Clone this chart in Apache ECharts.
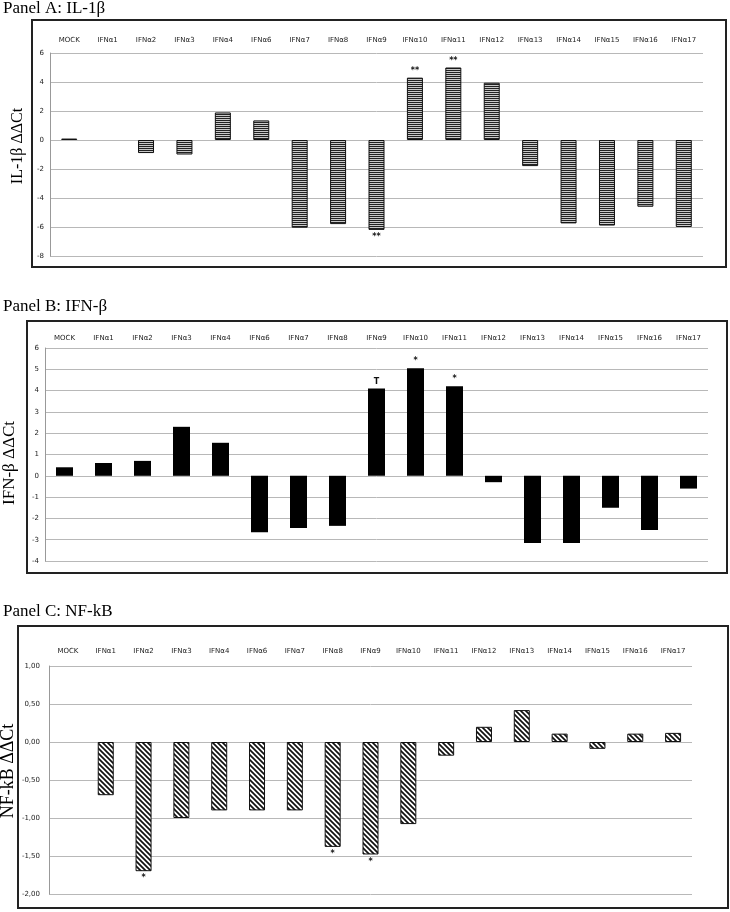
<!DOCTYPE html>
<html>
<head>
<meta charset="utf-8">
<script src="https://cdn.jsdelivr.net/npm/echarts@6/dist/echarts.min.js"></script>
<style>
html,body{margin:0;padding:0;background:#fff;}
#chart{width:730px;height:912px;}
</style>
</head>
<body>
<div id="chart"></div>
<script>
const categories = ['MOCK','IFNα1','IFNα2','IFNα3','IFNα4','IFNα6','IFNα7','IFNα8','IFNα9','IFNα10','IFNα11','IFNα12','IFNα13','IFNα14','IFNα15','IFNα16','IFNα17'];

const il1bValues = [0.1, 0, -0.9, -1.0, 1.9, 1.35, -6.05, -5.8, -6.2, 4.3, 5.0, 3.95, -1.8, -5.75, -5.9, -4.6, -6.0];
const il1bSig    = ['', '', '', '', '', '', '', '', '**', '**', '**', '', '', '', '', '', ''];

const ifnbValues = [0.4, 0.6, 0.7, 2.3, 1.55, -2.65, -2.45, -2.35, 4.1, 5.05, 4.2, -0.3, -3.15, -3.15, -1.5, -2.55, -0.6];
const ifnbSig    = ['', '', '', '', '', '', '', '', 'T', '*', '*', '', '', '', '', '', ''];

const nfkbValues = [0, -0.7, -1.7, -1.0, -0.9, -0.9, -0.9, -1.38, -1.48, -1.08, -0.18, 0.2, 0.42, 0.11, -0.09, 0.11, 0.12];
const nfkbSig    = ['', '', '*', '', '', '', '', '*', '*', '', '', '', '', '', '', '', ''];

const panelTitles = ['Panel A: IL-1β', 'Panel B: IFN-β', 'Panel C: NF-kB'];
const axisNames = ['IL-1β ΔΔCt', 'IFN-β ΔΔCt', 'NF-kB ΔΔCt'];

function makeHStripe() {
  const c = document.createElement('canvas');
  c.width = 4; c.height = 2;
  const g = c.getContext('2d');
  g.fillStyle = '#c8c8c8'; g.fillRect(0, 0, 4, 2);
  g.fillStyle = '#222'; g.fillRect(0, 0, 4, 1);
  return c;
}
function makeDiag() {
  const s = 5;
  const c = document.createElement('canvas');
  c.width = s; c.height = s;
  const g = c.getContext('2d');
  g.fillStyle = '#fff'; g.fillRect(0, 0, s, s);
  g.strokeStyle = '#111'; g.lineWidth = 1.7;
  g.beginPath();
  g.moveTo(-1, -1); g.lineTo(s + 1, s + 1);
  g.moveTo(-1, s - 1); g.lineTo(1, s + 1);
  g.moveTo(s - 1, -1); g.lineTo(s + 1, 1);
  g.stroke();
  return c;
}

const hstripe = { image: makeHStripe(), repeat: 'repeat' };
const diag = { image: makeDiag(), repeat: 'repeat' };

const grids = [
  { left: 50, top: 53, width: 653, height: 203 },
  { left: 45, top: 348, width: 663, height: 213 },
  { left: 49, top: 666, width: 643, height: 228 }
];
const yCfg = [
  { min: -8, max: 6, interval: 2, fmt: v => String(v) },
  { min: -4, max: 6, interval: 1, fmt: v => String(v) },
  { min: -2, max: 1, interval: 0.5, fmt: v => v.toFixed(2).replace('.', ',') }
];
const labelMargins = [9, 6, 11];
const barWidths = [16, 17, 16];
const seriesValues = [il1bValues, ifnbValues, nfkbValues];
const seriesSig = [il1bSig, ifnbSig, nfkbSig];
const seriesStyles = [
  { color: hstripe, borderColor: '#111', borderWidth: 1 },
  { color: '#000', borderColor: '#000', borderWidth: 0 },
  { color: diag, borderColor: '#111', borderWidth: 1 }
];

const xAxes = [], yAxes = [], series = [];
for (let i = 0; i < 3; i++) {
  xAxes.push({
    type: 'category', gridIndex: i, data: categories, position: 'top',
    axisLine: { show: false }, axisTick: { show: false },
    axisLabel: { interval: 0, margin: labelMargins[i], fontSize: 7, color: '#222', fontFamily: 'DejaVu Sans' }
  });
  yAxes.push({
    type: 'value', gridIndex: i, min: yCfg[i].min, max: yCfg[i].max, interval: yCfg[i].interval,
    axisLine: { show: true, lineStyle: { color: '#999', width: 1 } },
    axisTick: { show: false },
    axisLabel: { fontSize: 7, color: '#222', fontFamily: 'DejaVu Sans', margin: i === 2 ? 9 : 6, formatter: yCfg[i].fmt },
    splitLine: { show: true, lineStyle: { color: '#b8b8b8', width: 1 } }
  });
  const vals = seriesValues[i], sig = seriesSig[i];
  series.push({
    type: 'bar', xAxisIndex: i, yAxisIndex: i, barWidth: barWidths[i],
    itemStyle: seriesStyles[i],
    data: vals.map((v, k) => ({
      value: v,
      itemStyle: v === 0 ? { borderWidth: 0, opacity: 0 } : undefined,
      label: { show: sig[k] !== '', position: v < 0 ? 'bottom' : 'top', distance: 3,
               formatter: () => sig[k], fontSize: 8, color: '#111', fontFamily: 'DejaVu Sans', fontWeight: 'bold' }
    }))
  });
}

const boxes = [
  { x: 32, y: 20, w: 694, h: 247 },
  { x: 27, y: 321, w: 700, h: 252 },
  { x: 18, y: 626, w: 710, h: 282 }
];
const titleTops = [0, 298, 603];
const nameX = [18, 10, 8];
const nameY = [146, 463, 771];
const nameSize = [16, 17, 18];

const graphic = [];
for (let i = 0; i < 3; i++) {
  graphic.push({ type: 'rect', shape: { x: boxes[i].x, y: boxes[i].y, width: boxes[i].w, height: boxes[i].h },
    style: { fill: 'none', stroke: '#222', lineWidth: 2 }, silent: true });
  graphic.push({ type: 'text', x: 3, y: titleTops[i],
    style: { text: panelTitles[i], font: '17px "Liberation Serif"', fill: '#000' } });
  graphic.push({ type: 'text', x: nameX[i], y: nameY[i], rotation: Math.PI / 2,
    style: { text: axisNames[i], font: nameSize[i] + 'px "Liberation Serif"', fill: '#000', textAlign: 'center', textVerticalAlign: 'middle' } });
}

const chart = echarts.init(document.getElementById('chart'), null, { renderer: 'canvas' });
chart.setOption({
  animation: false,
  backgroundColor: '#fff',
  grid: grids,
  xAxis: xAxes,
  yAxis: yAxes,
  series: series,
  graphic: graphic
});
</script>
</body>
</html>
